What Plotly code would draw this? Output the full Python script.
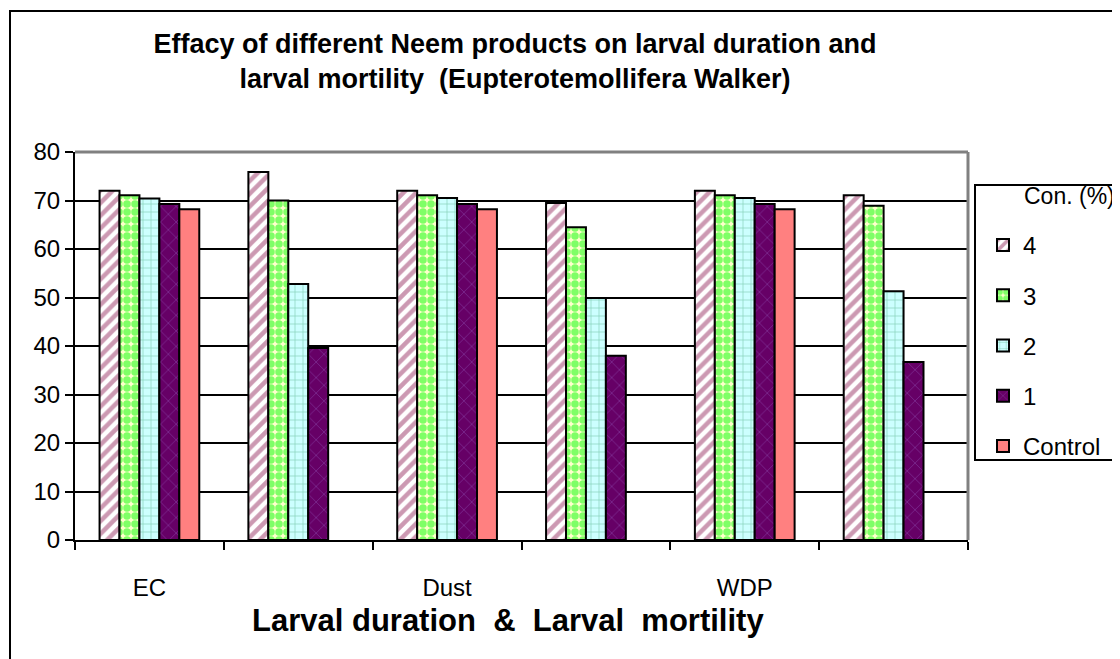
import plotly.graph_objects as go

groups = ["EC", "EC mortality", "Dust", "Dust mortality", "WDP", "WDP mortality"]
tick_labels = ["EC", "Dust", "WDP"]
series_names = ["4", "3", "2", "1", "Control"]
s4 = [72.0, 75.9, 72.0, 69.5, 72.0, 71.1]
s3 = [71.1, 70.0, 71.1, 64.5, 71.1, 68.9]
s2 = [70.4, 52.8, 70.5, 49.9, 70.5, 51.3]
s1 = [69.3, 39.6, 69.3, 38.0, 69.3, 36.7]
sc = [68.2, None, 68.2, None, 68.2, None]

OFF = 8  # page body margin
W, H = 1120 - OFF, 659 - OFF
# plot area in screen pixels
L, R, T, B = 75, 968, 152, 540
pw, ph = R - L, B - T

def px_x(p):
    return (p - L) / pw

def px_y(p):
    return (B - p) / ph

styles = [
    dict(color="white", pattern=dict(shape="/", fgcolor="#993366", bgcolor="white", size=9, solidity=0.5)),
    dict(color="#FFFFCC", pattern=dict(shape=".", fgcolor="#00FF00", bgcolor="#FFFFCC", size=8, solidity=0.7)),
    dict(color="#CCFFFF", pattern=dict(shape="+", fgcolor="#339966", bgcolor="#CCFFFF", size=8, solidity=0.15)),
    dict(color="#660066", pattern=dict(shape="x", fgcolor="#9966CC", bgcolor="#660066", size=11, solidity=0.12)),
    dict(color="#FF8080"),
]
data = [s4, s3, s2, s1, sc]

x = list(range(len(groups)))
fig = go.Figure()
for name, vals, st in zip(series_names, data, styles):
    fig.add_trace(go.Bar(
        x=x, y=vals, name=name, legendgroup=name,
        marker=dict(line=dict(color="black", width=2), **st),
    ))

fig.update_layout(
    width=W, height=H,
    margin=dict(l=L - OFF, r=W - (R - OFF), t=T - OFF, b=H - (B - OFF), pad=0),
    paper_bgcolor="white", plot_bgcolor="white",
    barmode="group", bargap=0.33, bargroupgap=0,
    font=dict(family="Liberation Sans, Arial", size=24, color="black"),
    title=dict(
        text="<b>Effacy of different Neem products on larval duration and<br>larval mortility  (Eupterotemollifera Walker)</b>",
        x=(515 - OFF) / W, xanchor="center", y=1 - (53 - OFF) / H, yanchor="middle",
        font=dict(size=27, color="black"),
    ),
    xaxis=dict(
        range=[-0.5, 5.5], tickmode="array", tickvals=[0, 2, 4], ticktext=tick_labels,
        ticks="", showgrid=False, showline=True, linecolor="black", linewidth=2,
        tickfont=dict(size=24), ticklabelstandoff=25,
        minor=dict(tickmode="array", tickvals=[-0.5, 0.5, 1.5, 2.5, 3.5, 4.5, 5.5],
                   ticks="outside", ticklen=8, tickwidth=2, tickcolor="black", showgrid=False),
        zeroline=False,
    ),
    yaxis=dict(
        range=[0, 80], dtick=10, ticks="outside", ticklen=8, tickwidth=2, tickcolor="black",
        showgrid=True, gridcolor="black", gridwidth=2, showline=True, linecolor="black", linewidth=2,
        zeroline=False, tickfont=dict(size=24),
    ),
    legend=dict(
        x=px_x(983), xanchor="left", y=px_y(223), yanchor="top",
        font=dict(size=24), traceorder="grouped", tracegroupgap=16,
        borderwidth=0, bgcolor="rgba(0,0,0,0)", itemwidth=30,
    ),
    showlegend=True,
    annotations=[
        dict(text="Con. (%)", xref="paper", yref="paper", x=px_x(1022), y=px_y(196),
             xanchor="left", yanchor="middle", showarrow=False, font=dict(size=23)),
        dict(text="<b>Larval duration  &amp;  Larval  mortility</b>", xref="paper", yref="paper",
             x=px_x(508), y=px_y(620), xanchor="center", yanchor="middle", showarrow=False,
             font=dict(size=31)),
    ],
    shapes=[
        dict(type="line", xref="paper", yref="paper", x0=0, x1=1, y0=1, y1=1,
             line=dict(color="#808080", width=3)),
        dict(type="line", xref="paper", yref="paper", x0=1, x1=1, y0=0, y1=1,
             line=dict(color="#808080", width=3)),
        dict(type="rect", xref="paper", yref="paper", x0=px_x(975), x1=px_x(1140),
             y0=px_y(460), y1=px_y(185), line=dict(color="black", width=2)),
        dict(type="rect", xref="paper", yref="paper", x0=px_x(10), x1=px_x(1140),
             y0=px_y(680), y1=px_y(11), line=dict(color="black", width=2)),
    ],
)
fig.write_html("out.html")
